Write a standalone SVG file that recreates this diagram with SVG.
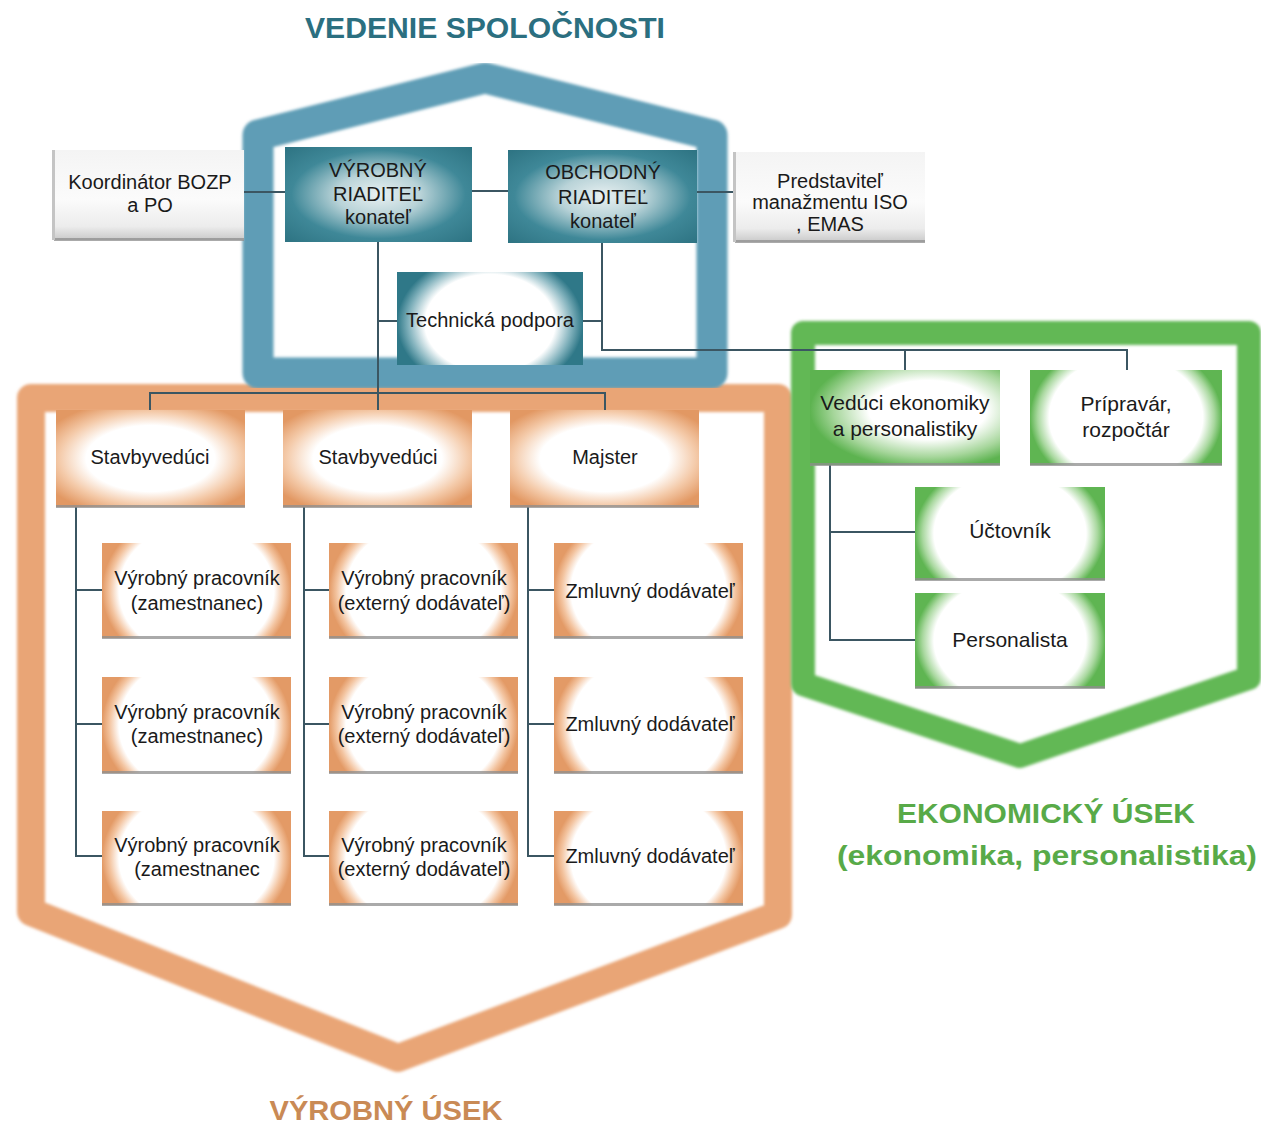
<svg xmlns="http://www.w3.org/2000/svg" width="1261" height="1133" viewBox="0 0 1261 1133">
<defs>
<style>
.band{fill:none;stroke-linejoin:round;filter:url(#soft)}
.con{fill:none;stroke:#3b5662;stroke-width:2}
.t{font-family:"Liberation Sans",Arial,sans-serif;font-size:20px;fill:#1a1a1a;text-anchor:middle}
.tg{font-family:"Liberation Sans",Arial,sans-serif;font-size:21px;fill:#1a1a1a;text-anchor:middle}
.title{font-family:"Liberation Sans",Arial,sans-serif;font-weight:bold;text-anchor:middle}
.shadow{fill:#8e8e8e;opacity:0.75}
</style>
<filter id="soft" x="-5%" y="-5%" width="110%" height="110%"><feGaussianBlur stdDeviation="1.8"/></filter>
<radialGradient id="gBlue" cx="0.5" cy="0.5" r="0.75">
<stop offset="0" stop-color="#e9f1f2"/>
<stop offset="0.3" stop-color="#b9d3d8"/>
<stop offset="0.62" stop-color="#3f8898"/>
<stop offset="1" stop-color="#2a6f7e"/>
</radialGradient>
<radialGradient id="gBlueBr" cx="0.5" cy="0.55" r="0.5" gradientTransform="translate(0.5 0.55) scale(1 1.5) translate(-0.5 -0.55)">
<stop offset="0" stop-color="#ffffff"/>
<stop offset="0.7" stop-color="#ffffff"/>
<stop offset="0.88" stop-color="#7fb0bb"/>
<stop offset="1" stop-color="#2f7888"/>
</radialGradient>
<radialGradient id="gOr2" cx="0.5" cy="0.5" r="0.62">
<stop offset="0" stop-color="#ffffff"/>
<stop offset="0.55" stop-color="#ffffff"/>
<stop offset="0.78" stop-color="#f4caa9"/>
<stop offset="1" stop-color="#e29863"/>
</radialGradient>
<radialGradient id="gOr3" cx="0.5" cy="0.5" r="0.5" gradientTransform="translate(0.5 0.5) scale(1 1.7) translate(-0.5 -0.5)">
<stop offset="0" stop-color="#ffffff"/>
<stop offset="0.82" stop-color="#ffffff"/>
<stop offset="0.92" stop-color="#f3c4a0"/>
<stop offset="1" stop-color="#e39a66"/>
</radialGradient>
<radialGradient id="gGr3" cx="0.5" cy="0.5" r="0.5" gradientTransform="translate(0.5 0.5) scale(1 1.6) translate(-0.5 -0.5)">
<stop offset="0" stop-color="#ffffff"/>
<stop offset="0.8" stop-color="#ffffff"/>
<stop offset="0.92" stop-color="#a9d89f"/>
<stop offset="1" stop-color="#5fb552"/>
</radialGradient>
<radialGradient id="gGrL" cx="0.62" cy="0.42" r="0.62">
<stop offset="0" stop-color="#ffffff"/>
<stop offset="0.5" stop-color="#ffffff"/>
<stop offset="0.8" stop-color="#a6d69b"/>
<stop offset="1" stop-color="#5db350"/>
</radialGradient>
<linearGradient id="gGray" x1="0" y1="0" x2="0" y2="1">
<stop offset="0" stop-color="#f4f4f4"/>
<stop offset="0.55" stop-color="#fbfbfb"/>
<stop offset="0.85" stop-color="#ececec"/>
<stop offset="1" stop-color="#c9c9c9"/>
</linearGradient>
</defs>
<rect width="1261" height="1133" fill="#ffffff"/>

<g id="section-outlines">
<path class="band" d="M31,912 L31,398 L778,398 L778,915 L398,1058 Z" stroke="#e9a576" stroke-width="28"/>
<path class="band" d="M803,684 L803,333 L1249,333 L1249,678 L1020,756 Z" stroke="#62b854" stroke-width="24"/>
<path class="band" d="M258,373 L258,135 L485,78 L712,135 L712,373 Z" stroke="#5f9db6" stroke-width="31"/>
</g>

<g id="connectors">
<line class="con" x1="244" y1="192" x2="285" y2="192"/>
<line class="con" x1="472" y1="191" x2="508" y2="191"/>
<line class="con" x1="697" y1="192" x2="735" y2="192"/>
<polyline class="con" points="378,242 378,393"/>
<line class="con" x1="378" y1="321" x2="397" y2="321"/>
<line class="con" x1="583" y1="321" x2="602" y2="321"/>
<polyline class="con" points="602,243 602,350 1127,350 1127,370"/>
<line class="con" x1="905" y1="350" x2="905" y2="370"/>
<polyline class="con" points="150,410 150,393 605,393 605,410"/>
<line class="con" x1="378" y1="393" x2="378" y2="410"/>
<polyline class="con" points="76,507 76,856 102,856"/>
<line class="con" x1="76" y1="590" x2="102" y2="590"/>
<line class="con" x1="76" y1="724" x2="102" y2="724"/>
<polyline class="con" points="304,507 304,856 329,856"/>
<line class="con" x1="304" y1="590" x2="329" y2="590"/>
<line class="con" x1="304" y1="724" x2="329" y2="724"/>
<polyline class="con" points="528,507 528,856 554,856"/>
<line class="con" x1="528" y1="590" x2="554" y2="590"/>
<line class="con" x1="528" y1="724" x2="554" y2="724"/>
<polyline class="con" points="830,465 830,640 915,640"/>
<line class="con" x1="830" y1="532" x2="915" y2="532"/>
</g>

<text class="title" x="485" y="38" font-size="29" fill="#2b6f80" textLength="360" lengthAdjust="spacingAndGlyphs">VEDENIE SPOLOČNOSTI</text>
<text class="title" x="386" y="1120" font-size="28" fill="#c98a55" textLength="233" lengthAdjust="spacingAndGlyphs">VÝROBNÝ ÚSEK</text>
<text class="title" x="1046" y="823" font-size="28" fill="#58aa48" textLength="298" lengthAdjust="spacingAndGlyphs">EKONOMICKÝ ÚSEK</text>
<text class="title" x="1047" y="865" font-size="27" fill="#58aa48" textLength="420" lengthAdjust="spacingAndGlyphs">(ekonomika, personalistika)</text>

<g id="node-koordinator">
<rect x="54" y="150" width="190" height="90" fill="url(#gGray)"/>
<rect x="54" y="238" width="190" height="3" class="shadow"/>
<rect x="52" y="150" width="3" height="90" fill="#c4c4c4"/>
<text class="t" x="150" y="189">Koordinátor BOZP</text>
<text class="t" x="150" y="212">a PO</text>
</g>

<g id="node-vyrobny-riaditel">
<rect x="285" y="147" width="187" height="95" fill="url(#gBlue)"/>
<text class="t" x="378" y="177" fill="#4a4a4a">VÝROBNÝ</text>
<text class="t" x="378" y="201">RIADITEĽ</text>
<text class="t" x="378" y="224">konateľ</text>
</g>

<g id="node-obchodny-riaditel">
<rect x="508" y="150" width="189" height="93" fill="url(#gBlue)"/>
<text class="t" x="603" y="179" fill="#4a4a4a">OBCHODNÝ</text>
<text class="t" x="603" y="204">RIADITEĽ</text>
<text class="t" x="603" y="228">konateľ</text>
</g>

<g id="node-predstavitel">
<rect x="735" y="152" width="190" height="90" fill="url(#gGray)"/>
<rect x="735" y="240" width="190" height="3" class="shadow"/>
<rect x="733" y="152" width="3" height="90" fill="#c4c4c4"/>
<text class="t" x="830" y="188" font-size="19">Predstaviteľ</text>
<text class="t" x="830" y="209" font-size="19">manažmentu ISO</text>
<text class="t" x="830" y="231" font-size="19">, EMAS</text>
</g>

<g id="node-technicka-podpora">
<rect x="397" y="272" width="186" height="93" fill="url(#gBlueBr)"/>
<text class="t" x="490" y="327" font-size="21">Technická podpora</text>
</g>

<g id="node-stavbyveduci-1">
<rect x="56" y="410" width="189" height="97" fill="url(#gOr2)"/>
<rect x="56" y="505" width="189" height="3" class="shadow"/>
<text class="t" x="150" y="464">Stavbyvedúci</text>
</g>
<g id="node-stavbyveduci-2">
<rect x="283" y="410" width="189" height="97" fill="url(#gOr2)"/>
<rect x="283" y="505" width="189" height="3" class="shadow"/>
<text class="t" x="378" y="464">Stavbyvedúci</text>
</g>
<g id="node-majster">
<rect x="510" y="410" width="189" height="97" fill="url(#gOr2)"/>
<rect x="510" y="505" width="189" height="3" class="shadow"/>
<text class="t" x="605" y="464">Majster</text>
</g>

<g id="node-vp-zam-1">
<rect x="102" y="543" width="189" height="95" fill="url(#gOr3)"/>
<rect x="102" y="636" width="189" height="3" class="shadow"/>
<text class="t" x="197" y="585">Výrobný pracovník</text>
<text class="t" x="197" y="610">(zamestnanec)</text>
</g>
<g id="node-vp-zam-2">
<rect x="102" y="677" width="189" height="96" fill="url(#gOr3)"/>
<rect x="102" y="771" width="189" height="3" class="shadow"/>
<text class="t" x="197" y="719">Výrobný pracovník</text>
<text class="t" x="197" y="743">(zamestnanec)</text>
</g>
<g id="node-vp-zam-3">
<rect x="102" y="811" width="189" height="94" fill="url(#gOr3)"/>
<rect x="102" y="903" width="189" height="3" class="shadow"/>
<text class="t" x="197" y="852">Výrobný pracovník</text>
<text class="t" x="197" y="876">(zamestnanec</text>
</g>

<g id="node-vp-ext-1">
<rect x="329" y="543" width="189" height="95" fill="url(#gOr3)"/>
<rect x="329" y="636" width="189" height="3" class="shadow"/>
<text class="t" x="424" y="585">Výrobný pracovník</text>
<text class="t" x="424" y="610">(externý dodávateľ)</text>
</g>
<g id="node-vp-ext-2">
<rect x="329" y="677" width="189" height="96" fill="url(#gOr3)"/>
<rect x="329" y="771" width="189" height="3" class="shadow"/>
<text class="t" x="424" y="719">Výrobný pracovník</text>
<text class="t" x="424" y="743">(externý dodávateľ)</text>
</g>
<g id="node-vp-ext-3">
<rect x="329" y="811" width="189" height="94" fill="url(#gOr3)"/>
<rect x="329" y="903" width="189" height="3" class="shadow"/>
<text class="t" x="424" y="852">Výrobný pracovník</text>
<text class="t" x="424" y="876">(externý dodávateľ)</text>
</g>

<g id="node-zmluvny-1">
<rect x="554" y="543" width="189" height="95" fill="url(#gOr3)"/>
<rect x="554" y="636" width="189" height="3" class="shadow"/>
<text class="t" x="650" y="598">Zmluvný dodávateľ</text>
</g>
<g id="node-zmluvny-2">
<rect x="554" y="677" width="189" height="96" fill="url(#gOr3)"/>
<rect x="554" y="771" width="189" height="3" class="shadow"/>
<text class="t" x="650" y="731">Zmluvný dodávateľ</text>
</g>
<g id="node-zmluvny-3">
<rect x="554" y="811" width="189" height="94" fill="url(#gOr3)"/>
<rect x="554" y="903" width="189" height="3" class="shadow"/>
<text class="t" x="650" y="863">Zmluvný dodávateľ</text>
</g>

<g id="node-veduci-ekonomiky">
<rect x="810" y="370" width="190" height="95" fill="url(#gGrL)"/>
<rect x="810" y="463" width="190" height="3" class="shadow"/>
<text class="tg" x="905" y="410">Vedúci ekonomiky</text>
<text class="tg" x="905" y="436">a personalistiky</text>
</g>
<g id="node-pripravar">
<rect x="1030" y="370" width="192" height="95" fill="url(#gGr3)"/>
<rect x="1030" y="463" width="192" height="3" class="shadow"/>
<text class="tg" x="1126" y="411">Prípravár,</text>
<text class="tg" x="1126" y="437">rozpočtár</text>
</g>
<g id="node-uctovnik">
<rect x="915" y="487" width="190" height="93" fill="url(#gGr3)"/>
<rect x="915" y="578" width="190" height="3" class="shadow"/>
<text class="tg" x="1010" y="538">Účtovník</text>
</g>
<g id="node-personalista">
<rect x="915" y="593" width="190" height="95" fill="url(#gGr3)"/>
<rect x="915" y="686" width="190" height="3" class="shadow"/>
<text class="tg" x="1010" y="647">Personalista</text>
</g>
</svg>
